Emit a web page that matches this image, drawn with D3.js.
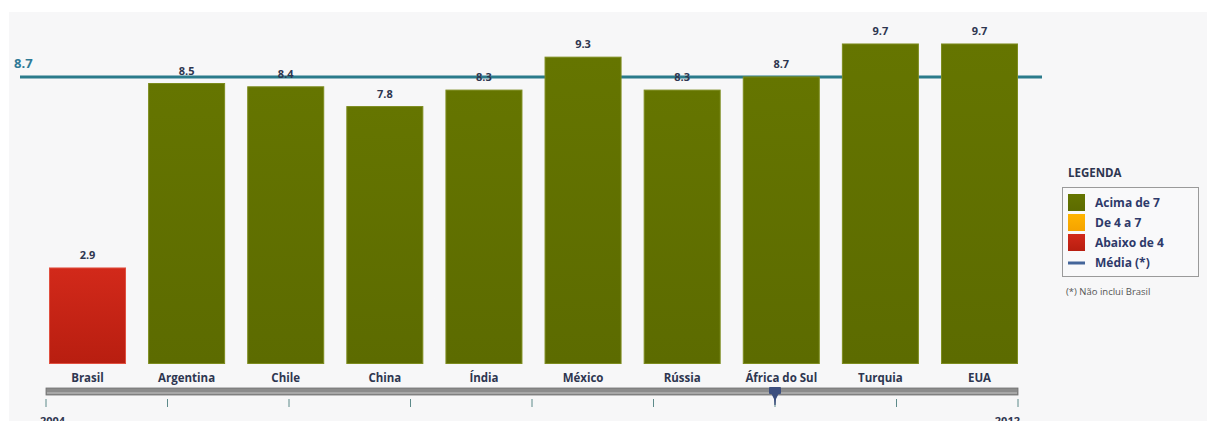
<!DOCTYPE html>
<html>
<head>
<meta charset="utf-8">
<script src="https://cdn.jsdelivr.net/npm/d3@7"></script>
<style>
  html, body { margin: 0; padding: 0; background: #ffffff; }
  svg { display: block; }
  text { font-family: "Open Sans", "Noto Sans", sans-serif; }
</style>
</head>
<body>
<svg id="chart" width="1207" height="421"></svg>
<script>
// Country scores and the average (average excludes Brasil)
const countries = ["Brasil", "Argentina", "Chile", "China", "Índia", "México", "Rússia", "África do Sul", "Turquia", "EUA"];
const scores = [2.9, 8.5, 8.4, 7.8, 8.3, 9.3, 8.3, 8.7, 9.7, 9.7];
const average = 8.7;
const years = [2004, 2005, 2006, 2007, 2008, 2009, 2010, 2011, 2012];
const selectedYear = 2010;
const legendLabels = ["Acima de 7", "De 4 a 7", "Abaixo de 4", "Média (*)"];

const svg = d3.select("#chart");
const W = 1207, H = 421;

// grey panel behind the chart
svg.append("rect").attr("x", 9).attr("y", 12).attr("width", W - 9).attr("height", H - 12).attr("fill", "#f7f7f8");

const defs = svg.append("defs");
function grad(id, top, bottom) {
  const g = defs.append("linearGradient").attr("id", id).attr("x1", 0).attr("y1", 0).attr("x2", 0).attr("y2", 1);
  g.append("stop").attr("offset", "0%").attr("stop-color", top);
  g.append("stop").attr("offset", "100%").attr("stop-color", bottom);
}
grad("gGreen", "#657500", "#5c6b00");
grad("gOrange", "#ffb400", "#f5a300");
grad("gRed", "#d2291a", "#b81e10");

const x = d3.scaleBand().domain(countries).range([38, 1029]).paddingInner(0.223).paddingOuter(0.111);
const y = d3.scaleLinear().domain([0, 10]).range([363.5, 34.1]);

function band(v) { return v > 7 ? "gGreen" : (v >= 4 ? "gOrange" : "gRed"); }
function border(v) { return v > 7 ? "#7d8c1e" : (v >= 4 ? "#ffc640" : "#e05040"); }

// faint watermark
svg.append("circle").attr("cx", 452).attr("cy", 272).attr("r", 32).attr("fill", "#ffffff").attr("opacity", 0.07);

// average line (beneath the bars)
svg.append("line")
  .attr("x1", 20).attr("x2", 1042)
  .attr("y1", y(average)).attr("y2", y(average))
  .attr("stroke", "#2b7b8b").attr("stroke-width", 3);
svg.append("text")
  .attr("x", 14).attr("y", y(average) - 9)
  .attr("fill", "#2f7a96").attr("font-size", 13).attr("font-weight", "bold")
  .text(d3.format(".1f")(average));

const data = countries.map((c, i) => ({ c, v: scores[i] }));

svg.selectAll("rect.bar").data(data).join("rect")
  .attr("class", "bar")
  .attr("x", d => x(d.c) + 0.5)
  .attr("y", d => y(d.v))
  .attr("width", x.bandwidth() - 1)
  .attr("height", d => y(0) - y(d.v))
  .attr("fill", d => `url(#${band(d.v)})`)
  .attr("stroke", d => border(d.v))
  .attr("stroke-width", 1);

svg.selectAll("text.val").data(data).join("text")
  .attr("class", "val")
  .attr("x", d => x(d.c) + x.bandwidth() / 2)
  .attr("y", d => y(d.v) - 9)
  .attr("text-anchor", "middle")
  .attr("fill", "#2e3650").attr("font-size", 11).attr("font-weight", "bold")
  .text(d => d3.format(".1f")(d.v));

svg.selectAll("text.cat").data(data).join("text")
  .attr("class", "cat")
  .attr("x", d => x(d.c) + x.bandwidth() / 2)
  .attr("y", 382)
  .attr("text-anchor", "middle")
  .attr("fill", "#2e3650").attr("font-size", 11.5).attr("font-weight", "bold")
  .text(d => d.c);

// year slider
const t = d3.scaleLinear().domain([years[0], years[years.length - 1]]).range([46, 1018]);
svg.append("rect").attr("x", t(years[0])).attr("y", 388).attr("width", t(years[years.length - 1]) - t(years[0])).attr("height", 7)
  .attr("fill", "#8c8c8c").attr("stroke", "#6f6f6f").attr("stroke-width", 0.8);
svg.append("rect").attr("x", t(years[0]) + 1).attr("y", 392).attr("width", t(years[years.length - 1]) - t(years[0]) - 2).attr("height", 2)
  .attr("fill", "#a8a8a8");
svg.selectAll("line.tick").data(years).join("line")
  .attr("class", "tick")
  .attr("x1", d => t(d)).attr("x2", d => t(d))
  .attr("y1", 399).attr("y2", 407)
  .attr("stroke", "#5d8a8a").attr("stroke-width", 1);
svg.append("text").attr("x", t(years[0]) - 6).attr("y", 425)
  .attr("fill", "#2e3650").attr("font-size", 11).attr("font-weight", "bold").text(years[0]);
svg.append("text").attr("x", t(years[years.length - 1]) + 2).attr("y", 425).attr("text-anchor", "end")
  .attr("fill", "#2e3650").attr("font-size", 11).attr("font-weight", "bold").text(years[years.length - 1]);

// slider handle
const hx = t(selectedYear);
const handle = svg.append("g").attr("transform", `translate(${hx},0)`);
handle.append("rect").attr("x", -6).attr("y", 387).attr("width", 12).attr("height", 7).attr("rx", 1).attr("fill", "#3d4f7e");
handle.append("path").attr("d", "M-4,393 L4,393 L1,399 L0.6,405 L-0.6,405 L-1,399 Z").attr("fill", "#3d4f7e");

// legend
const lg = svg.append("g");
lg.append("text").attr("x", 1068).attr("y", 177).attr("fill", "#2e3650").attr("font-size", 11.5).attr("font-weight", "bold").text("LEGENDA");
lg.append("rect").attr("x", 1062.5).attr("y", 187.5).attr("width", 136).attr("height", 89).attr("fill", "#f9f9fa").attr("stroke", "#9a9a9a");
const sw = ["gGreen", "gOrange", "gRed"];
legendLabels.forEach((lab, i) => {
  const yy = 203 + i * 20;
  if (i < 3) {
    lg.append("rect").attr("x", 1068).attr("y", yy - 9).attr("width", 17).attr("height", 17).attr("fill", `url(#${sw[i]})`);
  } else {
    lg.append("line").attr("x1", 1068).attr("x2", 1085).attr("y1", yy).attr("y2", yy).attr("stroke", "#44659a").attr("stroke-width", 3);
  }
  lg.append("text").attr("x", 1095).attr("y", yy + 4).attr("fill", "#2e3a6a").attr("font-size", 12).attr("font-weight", "bold").text(lab);
});
lg.append("text").attr("x", 1066).attr("y", 295).attr("fill", "#555555").attr("font-size", 9.5).text("(*) Não inclui Brasil");
</script>
</body>
</html>
